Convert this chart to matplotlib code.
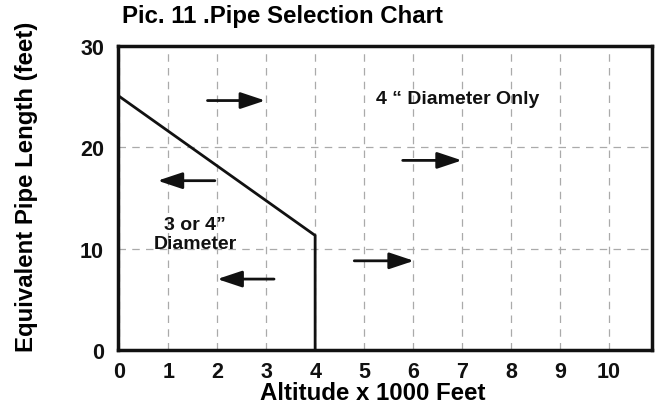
import matplotlib
matplotlib.use("Agg")
import matplotlib.pyplot as plt

# Data
boundary_x = [0, 4, 4]
boundary_y = [25, 11.3, 0]
x_ticks = [0, 1, 2, 3, 4, 5, 6, 7, 8, 9, 10]
y_ticks = [0, 10, 20, 30]
# arrows: (tail_x, tail_y, head_x, head_y)
arrows = [
    (1.8, 24.6, 2.98, 24.6),
    (1.95, 16.7, 0.78, 16.7),
    (3.16, 7.0, 2.0, 7.0),
    (5.79, 18.7, 7.0, 18.7),
    (4.8, 8.8, 6.02, 8.8),
]
labels = [
    (5.25, 24.8, '4 “ Diameter Only', 'left'),
    (1.55, 12.4, '3 or 4”', 'center'),
    (1.55, 10.5, 'Diameter', 'center'),
]

FONT = 'Liberation Sans'

fig = plt.figure(figsize=(6.59, 4.14), dpi=100)
ax = fig.add_axes([0.179, 0.152, 0.810, 0.735])
ax.set_xlim(-0.03, 10.88)
ax.set_ylim(0, 30)

ax.grid(True, color='#aaaaaa', linestyle=(0, (6, 5)), linewidth=0.9)
ax.set_xticks(x_ticks)
ax.set_yticks(y_ticks)
ax.tick_params(axis='x', length=0, pad=8)
ax.tick_params(axis='y', length=0, pad=10)
for lab in ax.get_xticklabels() + ax.get_yticklabels():
    lab.set_family(FONT)
    lab.set_fontweight('bold')
    lab.set_fontsize(15.5)
    lab.set_color('#111111')

for s in ax.spines.values():
    s.set_linewidth(2.5)
    s.set_color('#111111')

ax.plot(boundary_x, boundary_y, color='#111111', linewidth=2.0,
        solid_joinstyle='miter', clip_on=False)

for tx, ty, hx, hy in arrows:
    ax.annotate('', xy=(hx, hy), xytext=(tx, ty),
                arrowprops=dict(arrowstyle='-|>,head_length=1.5,head_width=0.5',
                                color='#111111', lw=2.0, shrinkA=0, shrinkB=0))

for x, y, t, ha in labels:
    ax.text(x, y, t, ha=ha, va='center', family=FONT, fontweight='bold',
            fontsize=14, color='#111111')

ax.set_xlabel('Altitude x 1000 Feet', fontsize=17.3, fontweight='bold', family=FONT)
ax.xaxis.label.set_va('center')
ax.xaxis.set_label_coords(0.477, -0.141)
ax.set_ylabel('Equivalent Pipe Length (feet)', fontsize=17.3, fontweight='bold', family=FONT)
ax.yaxis.label.set_va('center')
ax.yaxis.set_label_coords(-0.172, 0.539)
fig.text(0.185, 0.959, 'Pic. 11 .Pipe Selection Chart', fontsize=17.3, fontweight='bold',
         family=FONT, va='center', ha='left')

fig.savefig('out.png', dpi=100)
